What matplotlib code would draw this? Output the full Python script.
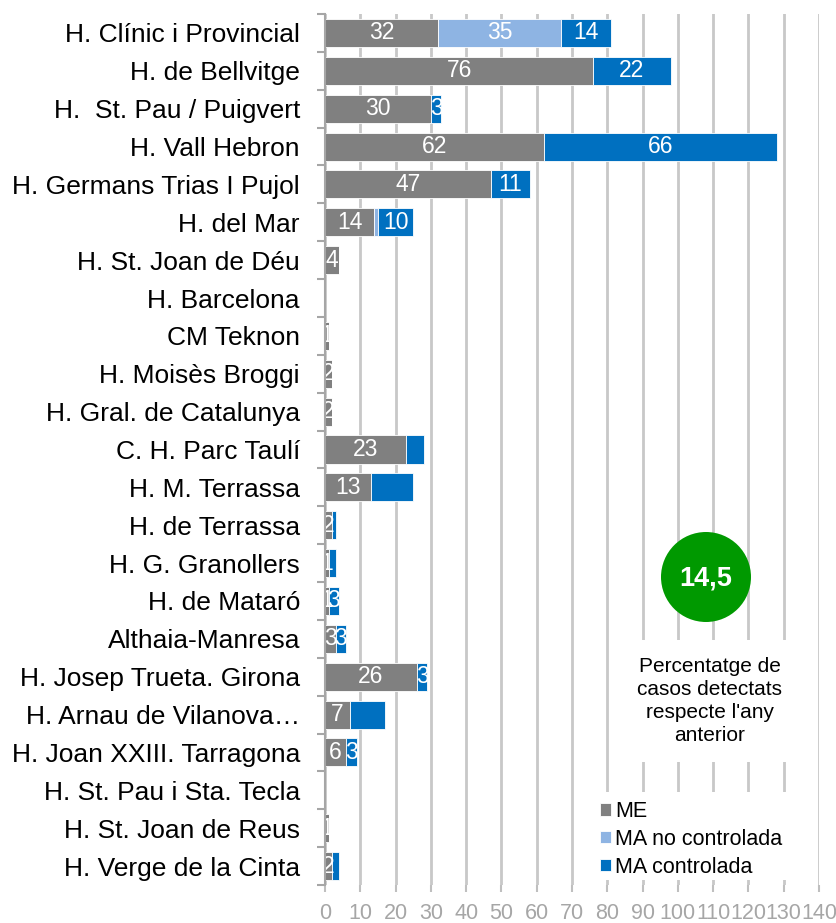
import numpy as np
import matplotlib.pyplot as plt
from matplotlib.patches import Ellipse, Rectangle

hospitals = [
    "H. Clínic i Provincial", "H. de Bellvitge", "H.  St. Pau / Puigvert",
    "H. Vall Hebron", "H. Germans Trias I Pujol", "H. del Mar",
    "H. St. Joan de Déu", "H. Barcelona", "CM Teknon", "H. Moisès Broggi",
    "H. Gral. de Catalunya", "C. H. Parc Taulí", "H. M. Terrassa",
    "H. de Terrassa", "H. G. Granollers", "H. de Mataró", "Althaia-Manresa",
    "H. Josep Trueta. Girona", "H. Arnau de Vilanova…",
    "H. Joan XXIII. Tarragona", "H. St. Pau i Sta. Tecla",
    "H. St. Joan de Reus", "H. Verge de la Cinta",
]
me = [32, 76, 30, 62, 47, 14, 4, 0, 1, 2, 2, 23, 13, 2, 1, 1, 3, 26, 7, 6, 0, 1, 2]
ma_no = [35, 0, 0, 0, 0, 1, 0, 0, 0, 0, 0, 0, 0, 0, 0, 0, 0, 0, 0, 0, 0, 0, 0]
ma_ctrl = [14, 22, 3, 66, 11, 10, 0, 0, 0, 0, 0, 5, 12, 1, 2, 3, 3, 3, 10, 3, 0, 0, 2]
# bars whose MA controlada label is not shown in the original
ma_ctrl_nolabel = ["C. H. Parc Taulí", "H. M. Terrassa", "H. de Terrassa",
                   "H. G. Granollers", "H. Arnau de Vilanova…", "H. Verge de la Cinta"]
series_names = ["ME", "MA no controlada", "MA controlada"]
series_colors = ["#808080", "#8EB4E3", "#0070C0"]
rate_text = "14,5"
rate_caption = "Percentatge de\ncasos detectats\nrespecte l'any\nanterior"

plt.rcParams['font.family'] = ['Liberation Sans', 'DejaVu Sans']

W, H = 837, 923
fig = plt.figure(figsize=(W / 100, H / 100), dpi=100)
ax = fig.add_axes([325 / W, 38 / H, 494 / W, 871 / H])

y = np.arange(len(hospitals))
left = np.zeros(len(hospitals))
for name, vals, col in zip(series_names, [me, ma_no, ma_ctrl], series_colors):
    vals = np.array(vals, dtype=float)
    bars = ax.barh(y, vals, left=left, height=0.74, color=col, label=name,
                   edgecolor='white', linewidth=0.6, zorder=3)
    for i, b in enumerate(bars):
        v = vals[i]
        if v <= 0:
            continue
        if name == "MA no controlada" and v < 5:
            continue
        if name == "MA controlada" and hospitals[i] in ma_ctrl_nolabel:
            continue
        ax.text(left[i] + v / 2, y[i], f"{int(v)}", ha='center', va='center',
                color='white', fontsize=16.5, zorder=4)
    left += vals

ax.set_xlim(0, 140)
ax.set_ylim(len(hospitals) - 0.5, -0.5)
ax.set_xticks(np.arange(0, 141, 10))
ax.set_yticks(y)
ax.set_yticklabels(hospitals, fontsize=19)
ax.set_yticks(np.arange(-0.5, len(hospitals), 1), minor=True)
ax.tick_params(axis='y', which='major', length=0, pad=18)
ax.tick_params(axis='y', which='minor', length=6, color='#A6A6A6', width=1.5)
ax.tick_params(axis='x', length=5, color='#BFBFBF', labelcolor='#A6A6A6',
               labelsize=15.5, pad=8, width=1.5)
ax.grid(axis='x', color='#C8C8C8', linewidth=2, zorder=0)
for s in ['top', 'right', 'bottom']:
    ax.spines[s].set_visible(False)
ax.spines['left'].set_color('#A6A6A6')
ax.spines['left'].set_linewidth(1.5)
ax.spines['left'].set_zorder(5)

# white boxes behind caption and legend (hide the gridlines there)
for x0, y0, x1, y1 in [(610, 640, 812, 762), (590, 792, 812, 880)]:
    ax.add_patch(Rectangle((x0 / W, 1 - y1 / H), (x1 - x0) / W, (y1 - y0) / H,
                           transform=fig.transFigure, facecolor='white',
                           edgecolor='none', zorder=4, clip_on=False))

leg = ax.legend(loc='upper left', bbox_to_anchor=(585 / W, 1 - 786 / H),
                bbox_transform=fig.transFigure, frameon=False, fontsize=15.5,
                handlelength=0.5, handleheight=0.5, handletextpad=0.2,
                labelspacing=0.32, borderpad=0.2)
leg.set_zorder(6)

circ = Ellipse((706 / W, 1 - 577 / H), 90 / W, 90 / H,
               transform=fig.transFigure, facecolor='#009900',
               edgecolor='none', zorder=10)
fig.patches.append(circ)
fig.text(706 / W, 1 - 578 / H, rate_text, ha='center', va='center',
         color='white', fontsize=19.5, fontweight='bold', zorder=11)
fig.text(710 / W, 1 - 701 / H, rate_caption, ha='center', va='center',
         fontsize=15, linespacing=1.28, zorder=11)

fig.savefig("out.png", dpi=100)
